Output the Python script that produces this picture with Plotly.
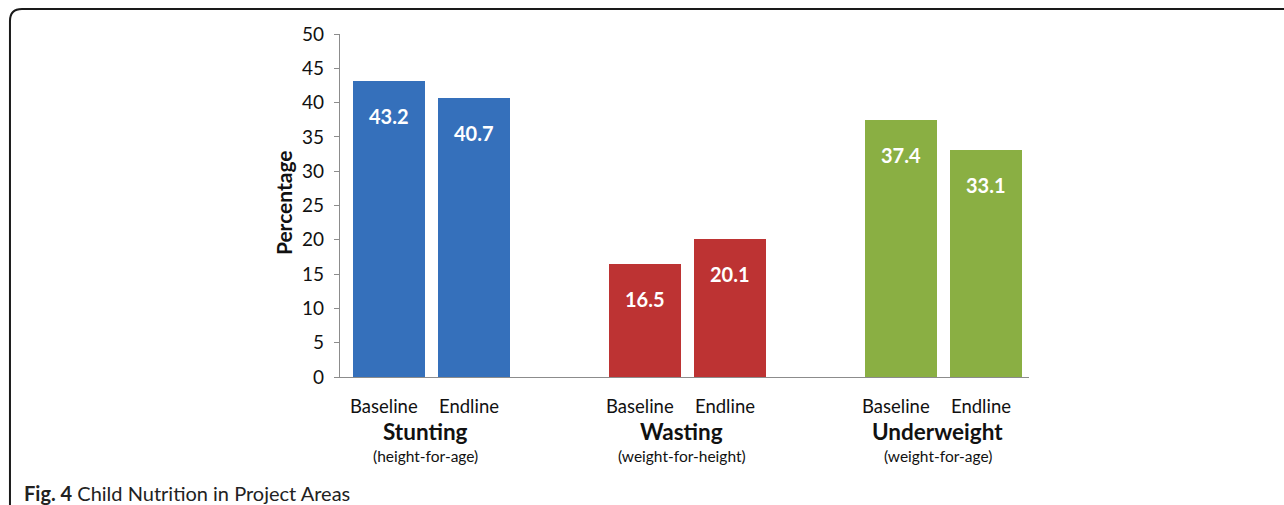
import plotly.graph_objects as go

# Data
groups = ["Stunting", "Wasting", "Underweight"]
group_notes = ["(height-for-age)", "(weight-for-height)", "(weight-for-age)"]
phases = ["Baseline", "Endline"]
baseline = [43.2, 16.5, 37.4]
endline = [40.7, 20.1, 33.1]
y_ticks = [0, 5, 10, 15, 20, 25, 30, 35, 40, 45, 50]

colors = ["#3570BB", "#BD3333", "#8AAF43"]
FONT = "Lato"

fig = go.Figure()

# each group takes two slots on a numeric axis, with one empty slot between groups
slot = 3
for i, g in enumerate(groups):
    xs = [i * slot, i * slot + 1]
    vals = [baseline[i], endline[i]]
    fig.add_trace(go.Bar(
        x=xs, y=vals, width=0.844, name=g,
        marker=dict(color=colors[i], line=dict(width=0)),
        showlegend=False, hoverinfo="skip",
    ))
    for x, v in zip(xs, vals):
        fig.add_annotation(x=x, y=v, xref="x", yref="y", yshift=-35,
                           text=f"{v:.1f}", showarrow=False,
                           font=dict(family=FONT, size=20, color="white", weight="bold"))
    for x, p in zip(xs, phases):
        fig.add_annotation(x=x, y=0, xref="x", yref="y", yshift=-29, xshift=-5,
                           text=p, showarrow=False,
                           font=dict(family=FONT, size=18.5, color="#111111"))
    cx = i * slot + 0.5
    fig.add_annotation(x=cx, y=0, xref="x", yref="y", yshift=-54, xshift=-6,
                       text=f"<b>{g}</b>", showarrow=False,
                       font=dict(family=FONT, size=22.5, color="#111111"))
    fig.add_annotation(x=cx, y=0, xref="x", yref="y", yshift=-79, xshift=-6,
                       text=group_notes[i], showarrow=False,
                       font=dict(family=FONT, size=15.5, color="#111111"))

# y-axis title
fig.add_annotation(x=-0.0827, y=0.507, xref="paper", yref="paper",
                   text="<b>Percentage</b>", textangle=-90, showarrow=False,
                   xanchor="center", yanchor="middle",
                   font=dict(family=FONT, size=21, color="#111111"))

# caption
fig.add_annotation(x=-0.4615, y=-0.3376,
                   xref="paper", yref="paper",
                   text="<b>Fig. 4</b> Child Nutrition in Project Areas",
                   showarrow=False, xanchor="left", yanchor="middle",
                   font=dict(family=FONT, size=20, color="#222222"))

# rounded frame along top and left edges
fig.add_shape(type="path", xref="paper", yref="paper",
              path="M -0.4790 -0.40 L -0.4790 1.0379 Q -0.4790 1.0729 -0.4616 1.0729 L 1.40 1.0729",
              line=dict(color="#1a1a1a", width=2))

fig.update_layout(
    width=1284, height=505,
    margin=dict(l=340, r=255, t=34, b=128),
    paper_bgcolor="white", plot_bgcolor="white",
    bargap=0,
    xaxis=dict(range=[-0.574, 7.50], showticklabels=False, showgrid=False,
               zeroline=False, showline=True, linecolor="#8c8c8c", linewidth=1.2,
               ticks=""),
    yaxis=dict(range=[0, 50], tickvals=y_ticks, showgrid=False, zeroline=False,
               showline=True, linecolor="#8c8c8c", linewidth=1.2,
               ticks="outside", ticklen=5, tickcolor="#8c8c8c",
               ticklabelstandoff=6,
               tickfont=dict(family=FONT, size=19, color="#111111")),
)

fig.write_html("out.html")
